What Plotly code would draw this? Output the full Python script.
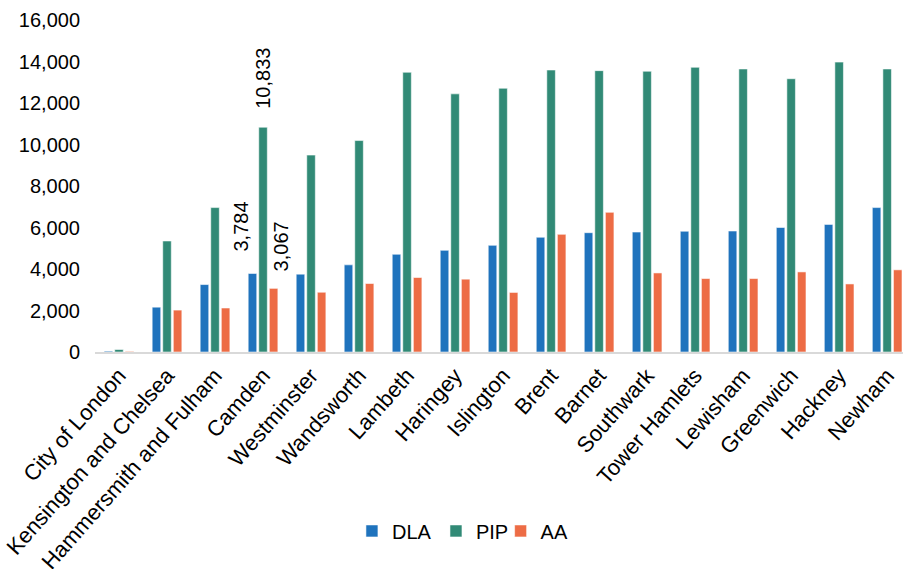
import plotly.graph_objects as go

categories = ["City of London", "Kensington and Chelsea", "Hammersmith and Fulham", "Camden",
              "Westminster", "Wandsworth", "Lambeth", "Haringey", "Islington", "Brent", "Barnet",
              "Southwark", "Tower Hamlets", "Lewisham", "Greenwich", "Hackney", "Newham"]
dla = [40, 2160, 3250, 3784, 3750, 4200, 4710, 4900, 5140, 5530, 5750, 5780, 5820, 5830, 6000, 6150, 6960]
pip = [120, 5350, 6960, 10833, 9490, 10190, 13480, 12440, 12710, 13590, 13560, 13530, 13720, 13640, 13170, 13970, 13640]
aa = [30, 2020, 2120, 3067, 2880, 3300, 3590, 3510, 2870, 5670, 6730, 3810, 3540, 3540, 3860, 3280, 3960]
y_ticks = [0, 2000, 4000, 6000, 8000, 10000, 12000, 14000, 16000]

series = [("DLA", dla, "#1f73bd"), ("PIP", pip, "#318a76"), ("AA", aa, "#ed6c45")]
legend_ids = ["legend", "legend2", "legend3"]
legend_x = [0.318, 0.422, 0.502]
FONT = "Liberation Sans, Arial, sans-serif"

fig = go.Figure()
for (name, vals, col), lid in zip(series, legend_ids):
    fig.add_trace(go.Bar(
        name=name, x=categories, y=vals, legend=lid, showlegend=True,
        marker=dict(color=col, line=dict(color="rgba(255,255,255,0.55)", width=1)),
    ))

# data labels for Camden (rotated)
label_idx = categories.index("Camden")
label_specs = [(dla, -22, 20), (pip, 0, 16), (aa, 18, 15)]
for vals, xs, ys in label_specs:
    v = vals[label_idx]
    fig.add_annotation(x=categories[label_idx], y=v, text=f"{v:,}", textangle=-90,
                       showarrow=False, xshift=xs, yshift=ys, yanchor="bottom",
                       font=dict(family=FONT, size=20, color="#000000"))

legend_common = dict(orientation="h", y=-0.539, yanchor="middle", xanchor="left",
                     font=dict(family=FONT, size=20), itemwidth=30,
                     bgcolor="rgba(0,0,0,0)", visible=True)
fig.update_layout(
    width=903, height=569, showlegend=True,
    margin=dict(l=95, r=0, t=20, b=217, autoexpand=False),
    paper_bgcolor="white", plot_bgcolor="white",
    barmode="group", bargap=0.34, bargroupgap=0.19,
    font=dict(family=FONT, size=20, color="#000000"),
    legend=dict(x=legend_x[0], **legend_common),
    legend2=dict(x=legend_x[1], **legend_common),
    legend3=dict(x=legend_x[2], **legend_common),
    xaxis=dict(range=[-0.5, 16.33], tickangle=-48.5, showline=True, linecolor="#d9d9d9",
               linewidth=2, showgrid=False, ticks="", automargin=False,
               tickfont=dict(family=FONT, size=22)),
    yaxis=dict(range=[0, 16000], tickvals=y_ticks, ticktext=[f"{t:,}" for t in y_ticks],
               showgrid=False, zeroline=False, showline=False, ticks="", automargin=False,
               ticklabelstandoff=14, tickfont=dict(family=FONT, size=20)),
)

fig.write_html("out.html", config={"displayModeBar": False},
               post_script="document.body.style.margin='0';document.body.style.overflow='hidden';")
